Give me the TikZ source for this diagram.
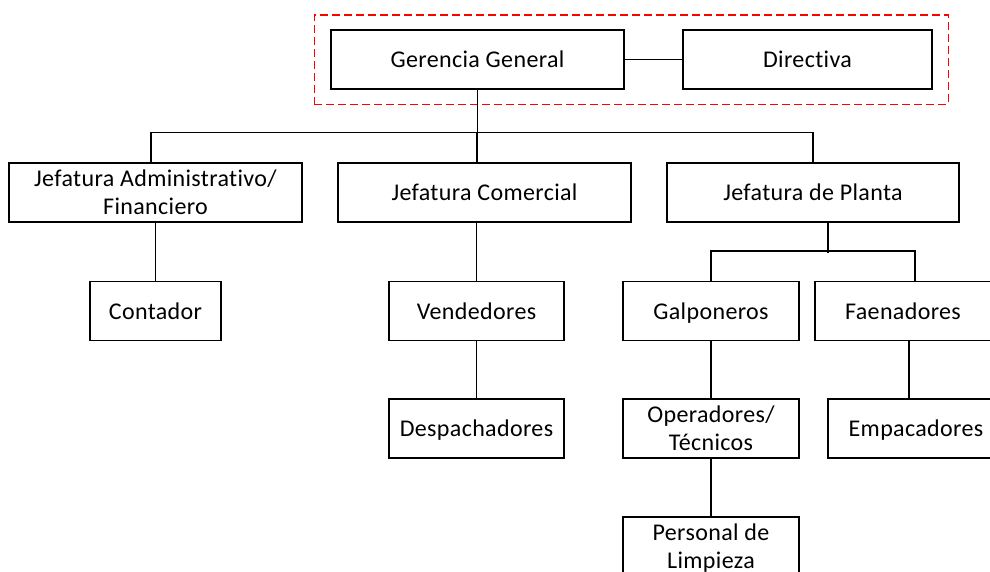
\documentclass[tikz,border=0pt]{standalone}
\usepackage{fontspec}
\setmainfont{Carlito}[Ligatures={NoCommon,NoRequired,NoContextual},LetterSpace=1.5]
\usepackage{tikz}
\usetikzlibrary{positioning,fit}
\tikzset{
    unit/.style={
           rectangle,
           draw=black, line width=1.3pt,
           minimum height=59pt,
           inner sep=2pt,
           align=center,
           text height=17pt, text depth=1pt,
           font=\fontsize{24}{28}\selectfont,
           },
    twoline/.style={text height=, text depth=},
    link/.style={line width=1.3pt},
}

\begin{document}
\begin{tikzpicture}[x=1pt,y=-1pt]
 \useasboundingbox (0,0) rectangle (990,571);
 \clip (0,0) rectangle (990,571);

 % top level
 \node[unit, minimum width=293pt] (GG) at (477.5,59.5) {Gerencia General};
 \node[unit,
 node distance=330pt,      % distance to GG
 minimum width=249pt,
 right of=GG] (DIR)        % same row as GG
 {Directiva};

 % dashed frame round the top level
 \node[draw=red, line width=1.3pt, dash pattern=on 8pt off 4pt,
 fit=(GG)(DIR), inner xsep=16pt, inner ysep=14.5pt] (board) {};

 % the three jefaturas
 \node[unit, twoline, minimum width=293pt] (JAF) at (155.5,192.5)
 {Jefatura Administrativo/\\Financiero};
 \node[unit, node distance=329pt, minimum width=293pt, right of=JAF] (JC)
 {Jefatura Comercial};
 \node[unit, node distance=328.5pt, minimum width=292pt, right of=JC] (JP)
 {Jefatura de Planta};

 % administrativo
 \node[unit, node distance=118.5pt, minimum width=131pt, below of=JAF] (CON)
 {Contador};

 % comercial
 \node[unit, minimum width=175pt] (VEN) at (476.5,311) {Vendedores};
 \node[unit, node distance=117.5pt, minimum width=175pt, below of=VEN] (DES)
 {Despachadores};

 % planta
 \node[unit, minimum width=176pt] (GAL) at (711,311) {Galponeros};
 \node[unit, node distance=192pt, minimum width=176pt, right of=GAL] (FAE)
 {Faenadores};
 \node[unit, twoline, node distance=117.5pt, minimum width=176pt, below of=GAL] (OPT)
 {Operadores/\\Técnicos};
 \node[unit, minimum width=176pt] (EMP) at (916,428.5) {Empacadores};
 \node[unit, twoline, node distance=118pt, minimum width=176pt, below of=OPT] (PL)
 {Personal de\\\smash{Limpieza}};

 % the lines
 \draw[link] (GG) -- (DIR);
 \draw[link] (GG.south) -- ++(0pt,-44pt);
 \draw[link] ([xshift=-4.5pt]JAF.north) -- ++(0pt,30pt) -| (JP.north);
 \draw[link] ([xshift=-7.5pt]JC.north) -- ++(0pt,30pt);
 \draw[link] (JAF.south) -- (CON.north);
 \draw[link] (VEN.north) -- (VEN.north |- JC.south);
 \draw[link] (VEN) -- (DES);
 \draw[link] ([xshift=15pt]JP.south) -- ++(0pt,-30pt);
 \draw[link] (GAL.north) -- ++(0pt,30pt) -| ([xshift=12pt]FAE.north);
 \draw[link] (GAL) -- (OPT);
 \draw[link] (OPT) -- (PL);
 \draw[link] ([xshift=6pt]FAE.south) -- ([xshift=6pt]FAE.south |- EMP.north);
\end{tikzpicture}
\end{document}
